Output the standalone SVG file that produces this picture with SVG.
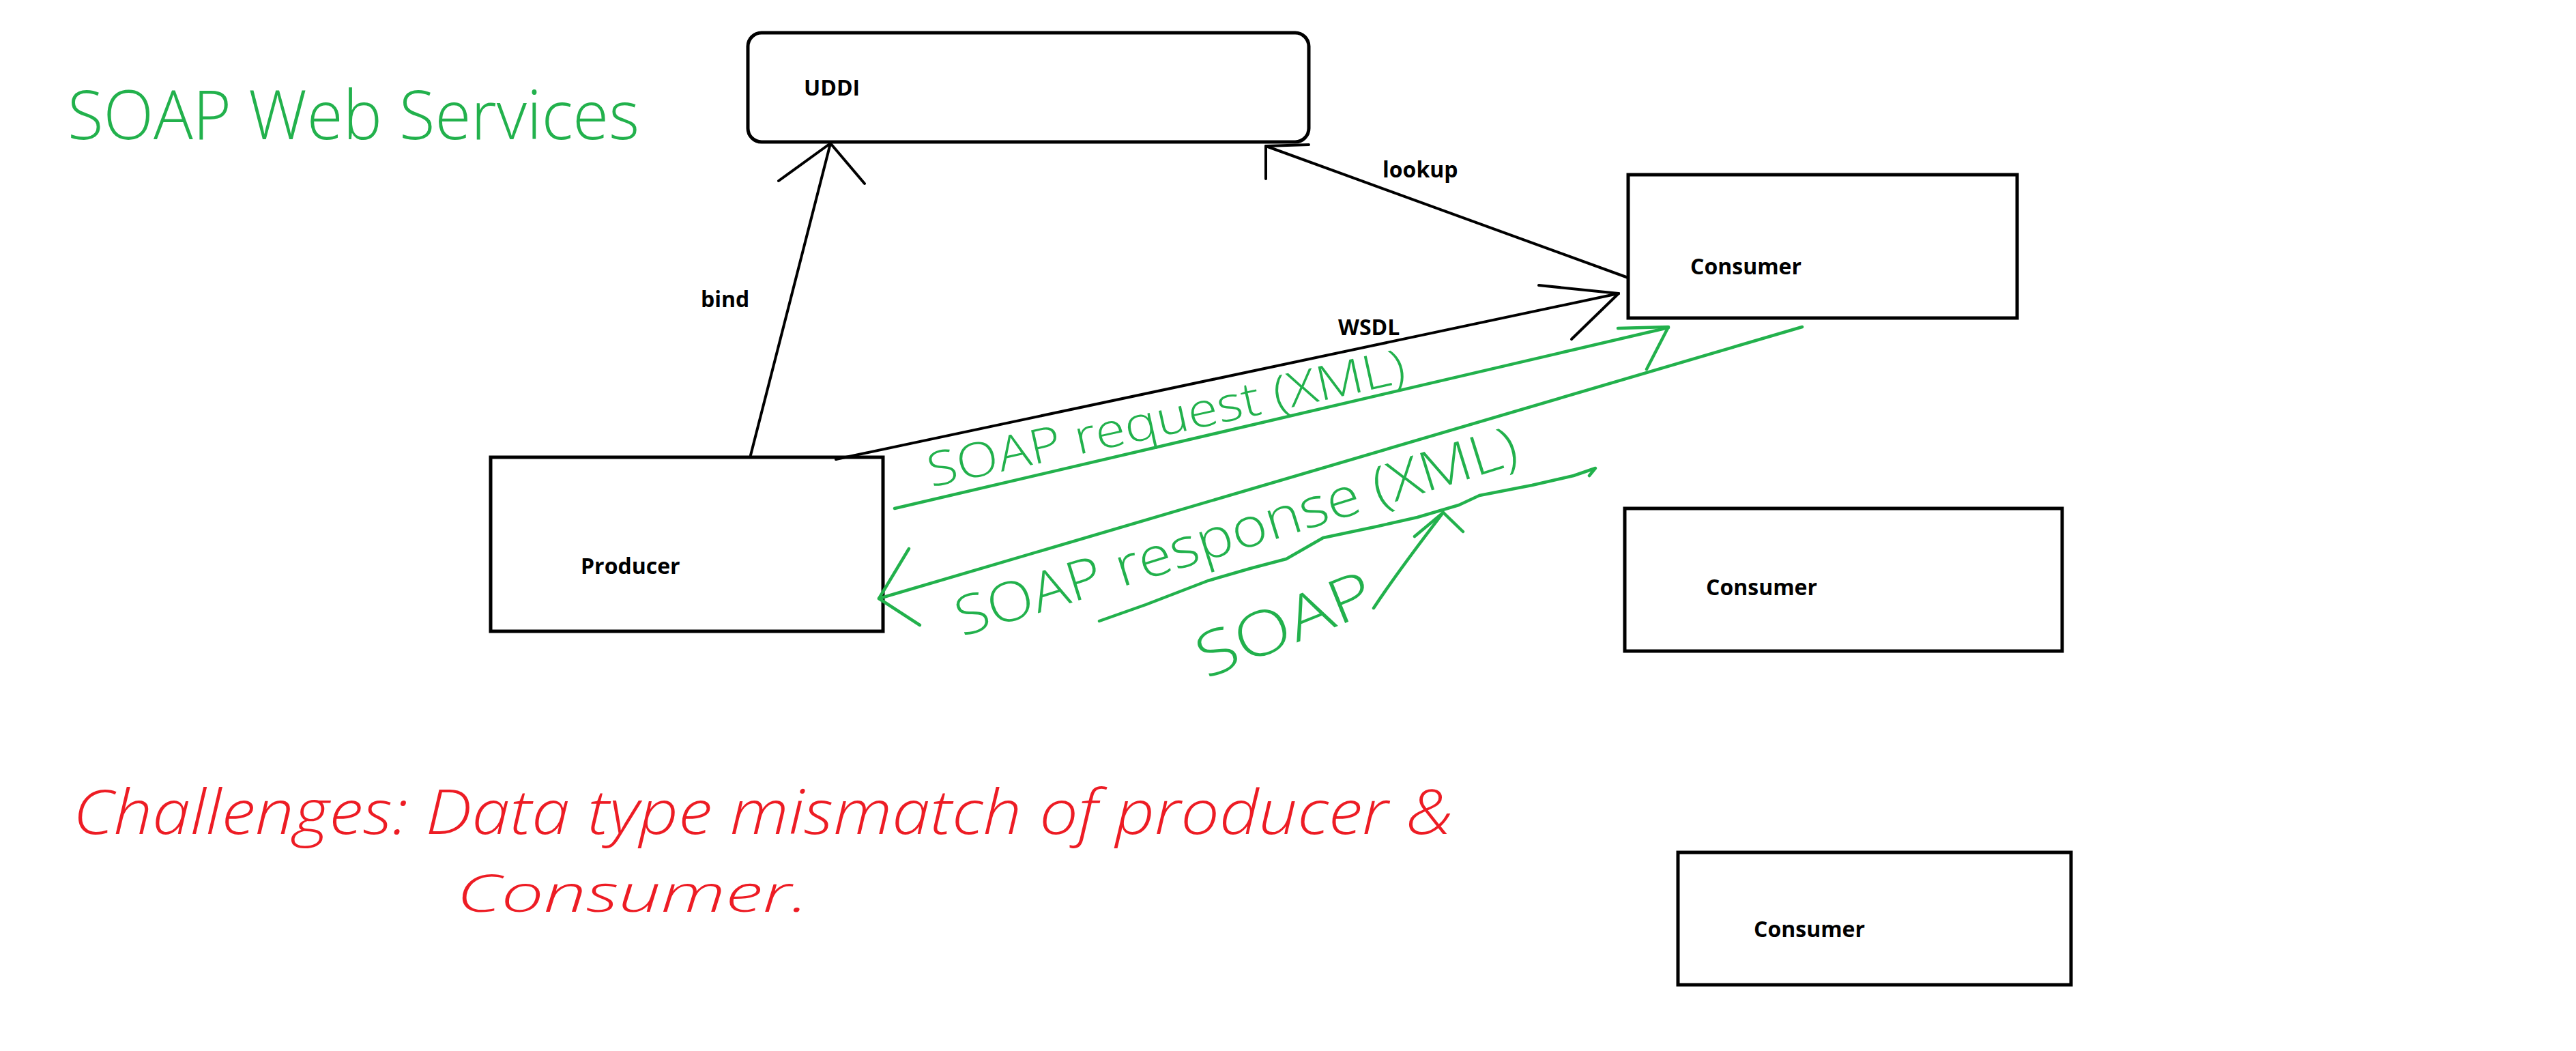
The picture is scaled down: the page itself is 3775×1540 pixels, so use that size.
<svg xmlns="http://www.w3.org/2000/svg" width="3775" height="1540" viewBox="0 0 3775 1540">
<style>
.box{fill:#fff;stroke:#000;stroke-width:5}
.lbl{font-family:"Open Sans","Noto Sans","Liberation Sans",sans-serif;font-weight:700;font-size:32px;fill:#000}
.blk{fill:none;stroke:#000;stroke-width:4;stroke-linecap:round;stroke-linejoin:round}
.grn{fill:none;stroke:#22b14c;stroke-width:4.5;stroke-linecap:round;stroke-linejoin:round}
.hwg{font-family:"Open Sans","Lato","Liberation Sans",sans-serif;font-weight:300;fill:#22b14c}
.hwr{font-family:"Open Sans","Lato","Liberation Sans",sans-serif;font-weight:300;font-style:italic;fill:#ed1c24}
</style>
<rect width="3775" height="1540" fill="#fff"/>

<g id="title">
  <text class="hwg" x="99" y="204" font-size="100" textLength="838" lengthAdjust="spacingAndGlyphs">SOAP Web Services</text>
</g>

<g id="uddi">
  <rect class="box" x="1096" y="48" width="822" height="160" rx="20" ry="20"/>
  <text class="lbl" x="1178" y="140">UDDI</text>
</g>

<g id="producer">
  <rect class="box" x="719" y="670" width="575" height="255"/>
  <text class="lbl" x="851" y="841">Producer</text>
</g>

<g id="consumer1">
  <rect class="box" x="2386" y="256" width="570" height="210"/>
  <text class="lbl" x="2477" y="402">Consumer</text>
</g>

<g id="consumer2">
  <rect class="box" x="2381" y="745" width="641" height="209"/>
  <text class="lbl" x="2500" y="872">Consumer</text>
</g>

<g id="consumer3">
  <rect class="box" x="2459" y="1249" width="576" height="194"/>
  <text class="lbl" x="2570" y="1373">Consumer</text>
</g>

<g id="connectors">
  <g id="bind">
    <path class="blk" d="M1100,667 L1217,210"/>
    <path class="blk" d="M1141,265 L1217,210 L1267,269"/>
    <text class="lbl" x="1027" y="450">bind</text>
  </g>
  <g id="lookup">
    <path class="blk" d="M2386,407 L1855,214"/>
    <path class="blk" d="M1918,212 L1855,214 L1855,262"/>
    <text class="lbl" x="2026" y="260">lookup</text>
  </g>
  <g id="wsdl">
    <path class="blk" stroke-width="5.5" d="M1225,673 L2372,430"/>
    <path class="blk" stroke-width="5.5" d="M2255,418 L2372,430"/>
    <path class="blk" stroke-width="3" d="M2372,430 L2303,497"/>
    <text class="lbl" x="1961" y="491">WSDL</text>
  </g>
  <g id="soap-request">
    <path class="grn" d="M1311,745 L2445,480"/>
    <path class="grn" d="M2371,481 L2445,479 L2413,541"/>
    <text class="hwg" font-size="70" textLength="715" lengthAdjust="spacingAndGlyphs" transform="translate(1365,714) rotate(-12.5)">SOAP request (XML)</text>
  </g>
  <g id="soap-response">
    <path class="grn" d="M2641,479 L1288,877"/>
    <path class="grn" d="M1332,804 L1288,877 L1348,916"/>
    <text class="hwg" font-size="80" textLength="858" lengthAdjust="spacingAndGlyphs" transform="translate(1410,933) rotate(-17.3)">SOAP response (XML)</text>
  </g>
  <g id="soap-transport">
    <path class="grn" d="M1611,910 L1679,886 L1770,851 L1832,833 L1885,819 L1939,788 L2015,772 L2077,758 L2138,740 L2168,726 L2245,711 L2306,697 L2338,686 L2329,697"/>
    <path class="grn" d="M2013,891 C2040,850 2085,790 2115,751"/>
    <path class="grn" d="M2073,786 L2115,751 L2144,779"/>
    <text class="hwg" font-size="90" textLength="272" lengthAdjust="spacingAndGlyphs" transform="translate(1768,995) rotate(-22)">SOAP</text>
  </g>
</g>

<g id="challenges">
  <text class="hwr" x="107" y="1222" font-size="90" textLength="2022" lengthAdjust="spacingAndGlyphs">Challenges: Data type mismatch of producer &amp;</text>
  <text class="hwr" x="669" y="1336" font-size="75" textLength="516" lengthAdjust="spacingAndGlyphs">Consumer.</text>
</g>
</svg>
